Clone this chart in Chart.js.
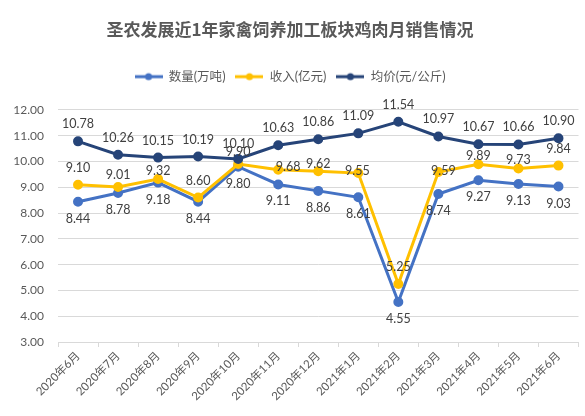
<!DOCTYPE html>
<html><head><meta charset="utf-8">
<script src="https://cdn.jsdelivr.net/npm/chart.js@4"></script>
<style>html,body{margin:0;padding:0;background:#fff}#wrap{width:585px;height:416px}</style>
</head><body><div id="wrap"><canvas id="c" width="585" height="416"></canvas></div>
<script>
const categories = ["2020年6月","2020年7月","2020年8月","2020年9月","2020年10月","2020年11月","2020年12月","2021年1月","2021年2月","2021年3月","2021年4月","2021年5月","2021年6月"];
const quantity = [8.44, 8.78, 9.18, 8.44, 9.80, 9.11, 8.86, 8.61, 4.55, 8.74, 9.27, 9.13, 9.03];
const revenue = [9.10, 9.01, 9.32, 8.60, 9.90, 9.68, 9.62, 9.55, 5.25, 9.59, 9.89, 9.73, 9.84];
const price = [10.78, 10.26, 10.15, 10.19, 10.10, 10.63, 10.86, 11.09, 11.54, 10.97, 10.67, 10.66, 10.90];
const seriesNames = ["数量(万吨)", "收入(亿元)", "均价(元/公斤)"];
const colors = ["#4472C4", "#FFC000", "#264478"];
const labelPos = ["below", "above", "above"];
const FONT = "Lato,'Noto Sans CJK SC',sans-serif";
const CJK = "'Noto Sans CJK SC','Microsoft YaHei',sans-serif";

// label placement style (pixel nudges for manually moved labels in the original), keyed "dataset:index"
const LABEL_STYLE = {
  defaultOffset: 17,
  nudge: { "1:1": [0, -12], "1:2": [0, -8], "1:4": [0, -12], "1:5": [10, -3], "1:6": [0, -7],
           "1:7": [-1, -2], "1:9": [5, -1], "1:10": [0, -8], "1:11": [0, -8], "2:4": [0, -15] }
};

function marker(color){
  const c = document.createElement('canvas');
  c.width = 28; c.height = 10;
  const g = c.getContext('2d');
  g.strokeStyle = color; g.lineWidth = 3;
  g.beginPath(); g.moveTo(0,5); g.lineTo(28,5); g.stroke();
  g.fillStyle = color; g.beginPath(); g.arc(14,5,3.5,0,Math.PI*2); g.fill();
  return c;
}
const markers = colors.map(marker);

const labelPlugin = {
  id: 'vlabels',
  beforeLayout(chart){
    const lg = chart.legend;
    if (lg && !lg._patched){
      const orig = lg.fit;
      lg.fit = function(){ orig.call(this); this.height += 17; };
      lg._patched = true;
    }
  },
  afterDatasetsDraw(chart){
    const ctx = chart.ctx;
    ctx.save();
    ctx.font = "12.5px " + FONT;
    ctx.fillStyle = "#404040";
    ctx.textAlign = "center";
    ctx.textBaseline = "middle";
    chart.data.datasets.forEach((ds, i) => {
      const meta = chart.getDatasetMeta(i);
      meta.data.forEach((pt, j) => {
        const n = LABEL_STYLE.nudge[i + ":" + j];
        let dx = 0, dy = labelPos[i] === "above" ? -LABEL_STYLE.defaultOffset : LABEL_STYLE.defaultOffset;
        if (n) { dx = n[0]; dy = n[1]; }
        ctx.fillText(ds.data[j].toFixed(2), pt.x + dx, pt.y + dy);
      });
    });
    ctx.restore();
  }
};

const mk = (i, data, order) => ({
  label: seriesNames[i], data, borderColor: colors[i], backgroundColor: colors[i],
  borderWidth: 3, pointRadius: 3.5, pointHoverRadius: 3.5, tension: 0, order
});

new Chart(document.getElementById('c'), {
  type: 'line',
  data: { labels: categories, datasets: [mk(0, quantity, 3), mk(1, revenue, 2), mk(2, price, 1)] },
  options: {
    responsive: false, animation: false, devicePixelRatio: 1,
    layout: { padding: { left: 0, right: 5, top: 0, bottom: 0 } },
    plugins: {
      tooltip: { enabled: false },
      title: { display: true, text: "圣农发展近1年家禽饲养加工板块鸡肉月销售情况", color: "#595959",
        font: { size: 17, weight: 'bold', family: CJK }, padding: { top: 19, bottom: 21 } },
      legend: { display: true, position: 'top',
        labels: { color: "#595959", font: { size: 12.5, family: FONT }, usePointStyle: true, pointStyleWidth: 28, boxHeight: 10, padding: 10,
          sort: (a, b) => a.datasetIndex - b.datasetIndex,
          generateLabels(chart){
            return Chart.defaults.plugins.legend.labels.generateLabels(chart).map(l => ({...l, pointStyle: markers[l.datasetIndex], lineWidth: 0}));
          } } }
    },
    scales: {
      x: { offset: true,
        grid: { display: true, drawOnChartArea: false, offset: true, color: "#D9D9D9", tickLength: 5 },
        border: { display: true, color: "#D9D9D9" },
        ticks: { color: "#595959", font: { size: 11.5, family: FONT }, maxRotation: 45, minRotation: 45, autoSkip: false, padding: 2 },
        afterFit(s){ s.height = 74; } },
      y: { min: 3, max: 12,
        grid: { color: "#D9D9D9", drawTicks: false }, border: { display: false },
        ticks: { stepSize: 1, color: "#595959", font: { size: 12, family: FONT }, padding: 14, callback: v => v.toFixed(2) },
        afterFit(s){ s.width = 58; } }
    }
  },
  plugins: [labelPlugin]
});
</script></body></html>
